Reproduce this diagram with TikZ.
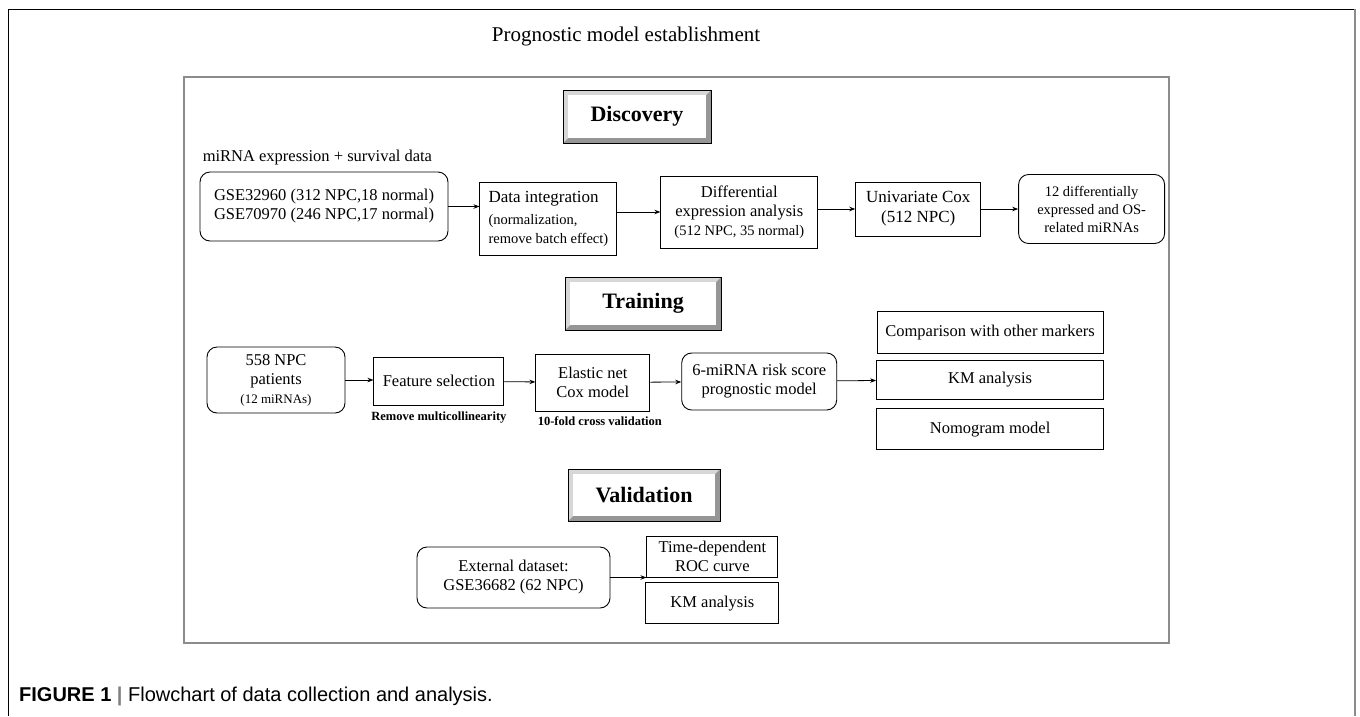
\documentclass[tikz,border=0pt]{standalone}
\usepackage{fontspec}
\setmainfont{Liberation Serif}
\newfontfamily\capfont{Liberation Sans}
\usepackage{tikz}
\usetikzlibrary{arrows.meta, positioning}
\definecolor{framegray}{RGB}{140,140,140}
\definecolor{bevellight}{RGB}{215,215,215}
\definecolor{beveldark}{RGB}{150,150,150}

\begin{document}
\begin{tikzpicture}[
			x=1pt, y=-1pt,
			node distance=31pt,
			box/.style={rectangle, draw, line width=0.9pt, align=center, inner sep=0pt, font=\fontsize{16.5}{19}\selectfont},
			rbox/.style={box, rounded corners=10pt},
			headbox/.style={rectangle, draw, line width=0.8pt, font=\bfseries\fontsize{22}{24}\selectfont,
				path picture={
					\coordinate (hsw) at (path picture bounding box.south west);
					\coordinate (hne) at (path picture bounding box.north east);
					\fill[beveldark] (hsw) rectangle (hne);
					\fill[bevellight] (hsw) |- (hne) -- ++(-5pt,-5pt) -| ([shift={(5pt,5pt)}]hsw) -- cycle;
					\fill[white] ([shift={(5pt,5pt)}]hsw) rectangle ([shift={(-5pt,-5pt)}]hne);
				}},
			note/.style={inner sep=0pt, font=\bfseries\fontsize{12.5}{14}\selectfont},
			arrow/.style={-{Stealth[length=6pt, width=4.5pt]}, line width=0.8pt}
		]
		\useasboundingbox (0,0) rectangle (1360,716);
		\draw[black, line width=0.8pt] (8,716) -- (8,9) -- (1355,9);
		\draw[framegray, line width=1.3pt] (1355,9) -- (1355,716);
		\draw[framegray, line width=1.3pt] (184,77) rectangle (1169,643);
		\node[font=\fontsize{21}{24}\selectfont] (title) at (626,36) {Prognostic model establishment};
		
		% discovery
		\node[headbox, minimum width=148pt, minimum height=53pt] (discovery) at (637,116.5) {Discovery};
		\node[rbox, minimum width=248pt, minimum height=69pt] (gse) at (324,206.5) {GSE32960 (312 NPC,18 normal)\\GSE70970 (246 NPC,17 normal)};
		\node[anchor=south west, inner sep=0pt, font=\fontsize{16.5}{19}\selectfont] (source) at ([xshift=3pt, yshift=6pt]gse.north west) {miRNA expression + survival data};
		\node[box, right=31pt of gse, yshift=-12pt, minimum width=137pt, minimum height=73pt, align=left] (integ) {\fontsize{17}{19}\selectfont Data integration\\[3pt]{\fontsize{14.5}{17}\selectfont (normalization,}\\{\fontsize{14.5}{17}\selectfont remove batch effect)}};
		\node[box, right=43pt of integ, yshift=6.5pt, minimum width=157pt, minimum height=72pt] (diffexp) {Differential\\expression analysis\\{\fontsize{14.5}{17}\selectfont (512 NPC, 35 normal)}};
		\node[box, right=37pt of diffexp, yshift=3pt, minimum width=125pt, minimum height=54pt, font=\fontsize{17}{20}\selectfont] (unicox) {Univariate Cox\\(512 NPC)};
		\node[rbox, right=37pt of unicox, minimum width=146pt, minimum height=69pt, font=\fontsize{14.5}{18}\selectfont] (sigmir) {12 differentially\\expressed and OS-\\related miRNAs};
		
		\draw[arrow] (gse.east) -- (gse.east -| integ.west);
		\draw[arrow] (integ.east |- diffexp) -- (diffexp.west);
		\draw[arrow] (diffexp.east |- unicox) -- (unicox.west);
		\draw[arrow] (unicox) -- (sigmir);
		
		% training
		\node[headbox, minimum width=156pt, minimum height=53pt] (training) at (643,303.5) {Training};
		\node[rbox, minimum width=138pt, minimum height=66pt] (npc) at (276,380) {558 NPC\\patients\\{\fontsize{13}{15}\selectfont (12 miRNAs)}};
		\node[box, right=28pt of npc, yshift=-1pt, minimum width=130pt, minimum height=48pt] (featsel) {Feature selection};
		\node[box, right=31pt of featsel, yshift=-1.5pt, minimum width=114pt, minimum height=57pt] (elnet) {Elastic net\\Cox model};
		\node[rbox, right=31pt of elnet, yshift=1pt, minimum width=155pt, minimum height=57pt] (riskmodel) {6-miRNA risk score\\prognostic model};
		\node[box, right=39pt of riskmodel, yshift=2pt, minimum width=227pt, minimum height=39pt] (kmtrain) {KM analysis};
		\node[box, above=6pt of kmtrain, minimum width=226pt, minimum height=42pt] (compare) {Comparison with other markers};
		\node[box, below=9pt of kmtrain, minimum width=227pt, minimum height=41pt] (nomo) {Nomogram model};
		\node[note, below=6pt of featsel] (multicol) {Remove multicollinearity};
		\node[note, below=5pt of elnet, xshift=7pt] (crossval) {10-fold cross validation};
		
		\draw[arrow] (npc.east) -- (npc.east -| featsel.west);
		\draw[arrow] (featsel) -- (elnet);
		\draw[arrow] (elnet) -- (riskmodel);
		\draw[arrow] (riskmodel) -- (kmtrain);
		
		% validation
		\node[headbox, minimum width=152pt, minimum height=52pt] (validation) at (644,495) {Validation};
		\node[rbox, minimum width=193pt, minimum height=61pt] (extdata) at (513.5,577.5) {External dataset:\\GSE36682 (62 NPC)};
		\node[box, right=36pt of extdata, yshift=21pt, minimum width=131pt, minimum height=41pt] (roc) {Time-dependent\\ROC curve};
		\node[box, below=5pt of roc, minimum width=133pt, minimum height=41pt] (kmval) {KM analysis};
		
		\draw[arrow] (extdata.east) -- (extdata.east -| roc.west);
		
		\node[anchor=west, inner sep=0pt, font=\capfont\fontsize{20}{22}\selectfont] (caption) at (19,696) {\textbf{FIGURE 1} {\color{gray}\textbf{|}} Flowchart of data collection and analysis.};
\end{tikzpicture}
\end{document}
